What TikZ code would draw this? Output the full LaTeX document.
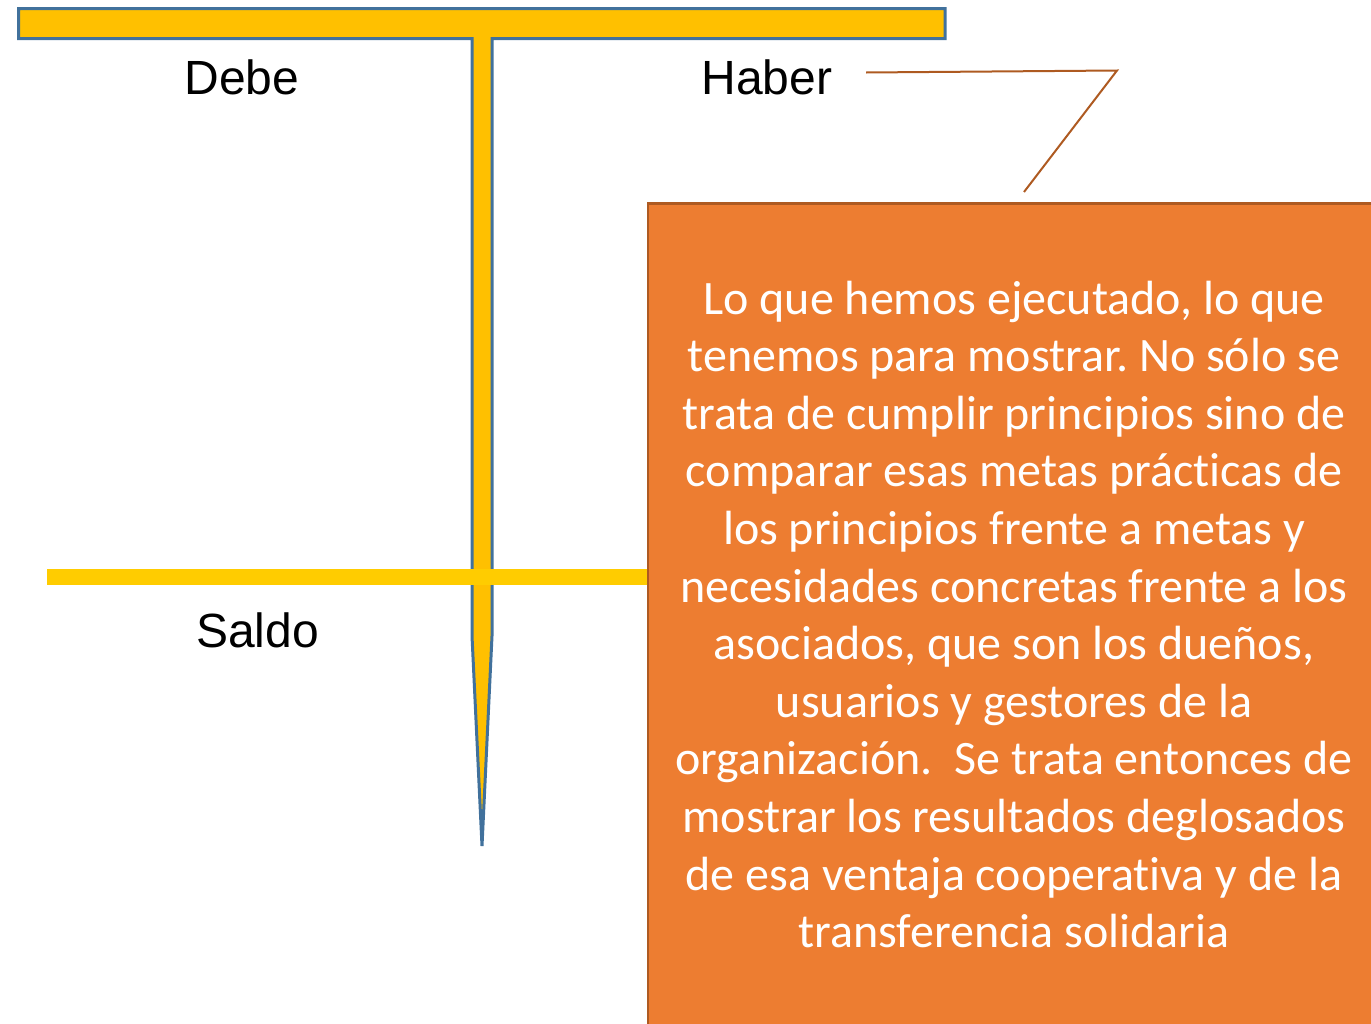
\documentclass[tikz,border=0pt]{standalone}
\usepackage{fontspec}
\setmainfont{Liberation Sans}
\newfontfamily\boxfont{Carlito}[Ligatures=CommonOff]
\frenchspacing
\definecolor{tfill}{HTML}{FFC000}
\definecolor{tline}{HTML}{41719C}
\definecolor{sfill}{HTML}{FFCC00}
\definecolor{ofill}{HTML}{ED7D31}
\definecolor{oline}{HTML}{AE5A21}
\tikzset{
  label text/.style={font=\fontsize{48}{57}\selectfont, text=black, anchor=base, inner sep=0pt},
  boxtext/.style={font=\boxfont\fontsize{48}{57.6}\selectfont, text=white, anchor=base, inner sep=0pt},
  callout/.style={draw=oline, line width=2pt},
}
\begin{document}
\begin{tikzpicture}[x=1pt,y=-1pt]
\useasboundingbox (0,0) rectangle (1371,1023);
% T shape
\path[fill=tfill, draw=tline, line width=3pt, line join=miter]
  (18.5,8.5) -- (945,8.5) -- (945,38.5) -- (492,38.5) -- (492,636)
  -- (482,846) -- (472,636) -- (472,38.5) -- (18.5,38.5) -- cycle;
% saldo bar
\fill[sfill] (47,569) rectangle (650,585);
% orange box
\node[draw=oline, line width=2.5pt, fill=ofill, minimum width=740pt, minimum height=840pt, anchor=north west, inner sep=0pt] (box) at (646.5,202) {};
% callout
\coordinate (c1) at (866,72.5);
\coordinate (c2) at (1117,70.5);
\coordinate (c3) at (1024,192);
\draw[callout] (c1) -- (c2) -- (c3);
% labels
\node[label text] (debe) at (242,94) {Debe};
\node[label text] (haber) at (767,94) {Haber};
\node[label text] (saldo) at (257.5,647) {Saldo};
% box text
\foreach \t [count=\i] in {
  {Lo que hemos ejecutado, lo que},
  {tenemos para mostrar. No sólo se},
  {trata de cumplir principios sino de},
  {comparar esas metas prácticas de},
  {los principios frente a metas y},
  {necesidades concretas frente a los},
  {asociados, que son los dueños,},
  {usuarios y gestores de la},
  {organización.\ \ Se trata entonces de},
  {mostrar los resultados deglosados},
  {de esa ventaja cooperativa y de la},
  {transferencia solidaria}} {
  \node[boxtext] (line\i) at (1014, {314+57.6*(\i-1)}) {\t};
}
\end{tikzpicture}
\end{document}
